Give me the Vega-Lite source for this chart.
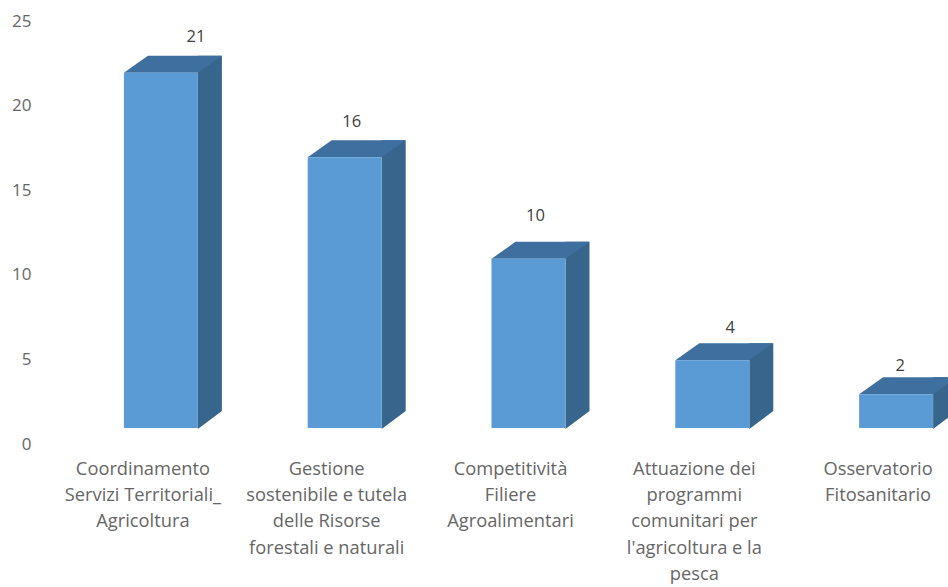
{
"$schema":"https://vega.github.io/schema/vega-lite/v6.json",
"width":879,"height":423,
"autosize":{"type":"none"},
"padding":{"left":69,"top":5,"right":0,"bottom":159},
"background":"white",
"config":{"view":{"stroke":null},"font":"Open Sans"},
"data":{"values":[
{"area":"Coordinamento|Servizi  Territoriali_|Agricoltura","n":21},
{"area":"Gestione|sostenibile e tutela|delle Risorse|forestali e naturali","n":16},
{"area":"Competitività|Filiere|Agroalimentari","n":10},
{"area":"Attuazione dei|programmi|comunitari per|l'agricoltura e la|pesca","n":4},
{"area":"Osservatorio|Fitosanitario","n":2}
]},
"encoding":{
"x":{"field":"area","type":"nominal","sort":null,"title":null,
"scale":{"range":[0,919],"paddingInner":0.6,"paddingOuter":0.3},
"axis":{"orient":"bottom","domain":false,"ticks":false,"labelAngle":0,"labelAlign":"center","labelBaseline":"top","labelPadding":32,"labelOffset":-18,"labelFontSize":18.3,"labelColor":"#666666","labelLineHeight":26.4,"labelLimit":0,"labelExpr":"split(datum.label,'|')","grid":false}},
"y":{"field":"n","type":"quantitative","title":null,
"scale":{"domain":[0,25],"nice":false},
"axis":{"domain":false,"ticks":false,"grid":false,"values":[0,5,10,15,20,25],"labelOffset":16,"labelPadding":38,"labelFontSize":17,"labelColor":"#666666"}}
},
"layer":[
{"mark":{"type":"bar","size":24,"xOffset":49,"yOffset":-17,"y2Offset":-17,"color":"#38658C"}},
{"mark":{"type":"point","filled":true,"opacity":1,"size":4,"color":"#38658C","shape":"M37,1L61,-17L37,-17Z"},"encoding":{"y":{"datum":0}}},
{"mark":{"type":"point","filled":true,"opacity":1,"size":4,"color":"#3F6F9F","shape":"M-37,0L37,0L61,-17L-13,-17Z"}},
{"mark":{"type":"bar","size":74,"color":"#5B9BD5"}},
{"transform":[{"filter":"datum.n==21"}],"mark":{"type":"text","fontSize":16.5,"color":"#404040","dx":35,"dy":-36},"encoding":{"text":{"field":"n"}}},
{"transform":[{"filter":"datum.n==16"}],"mark":{"type":"text","fontSize":16.5,"color":"#404040","dx":7,"dy":-35},"encoding":{"text":{"field":"n"}}},
{"transform":[{"filter":"datum.n==10"}],"mark":{"type":"text","fontSize":16.5,"color":"#404040","dx":7,"dy":-43},"encoding":{"text":{"field":"n"}}},
{"transform":[{"filter":"datum.n==4"}],"mark":{"type":"text","fontSize":16.5,"color":"#404040","dx":18,"dy":-32},"encoding":{"text":{"field":"n"}}},
{"transform":[{"filter":"datum.n==2"}],"mark":{"type":"text","fontSize":16.5,"color":"#404040","dx":4,"dy":-28},"encoding":{"text":{"field":"n"}}}
]
}
